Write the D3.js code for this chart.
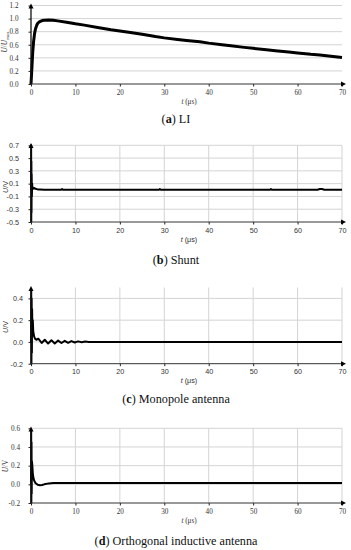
<!DOCTYPE html>
<html><head><meta charset="utf-8">
<script src="https://cdn.jsdelivr.net/npm/d3@7/dist/d3.min.js"></script>
<style>body{margin:0;background:#fff}svg{display:block}</style>
</head><body>
<script>
// ---------- data ----------
const xTicks = [0, 10, 20, 30, 40, 50, 60, 70];

const liTime  = [0,0.2,0.4,0.6,0.8,1,1.3,1.6,2,2.5,3,4,5,6,8,10,12,15,18,20,22,25,28,30,33,35,38,40,43,45,48,50,53,55,58,60,63,65,68,70];
const liValue = [0,0.25,0.5,0.66,0.77,0.84,0.9,0.935,0.955,0.97,0.975,0.98,0.975,0.965,0.945,0.92,0.9,0.865,0.83,0.81,0.79,0.76,0.725,0.705,0.68,0.665,0.645,0.625,0.6,0.585,0.56,0.545,0.525,0.51,0.49,0.475,0.455,0.445,0.42,0.405];
const liYTicks = [0, 0.2, 0.4, 0.6, 0.8, 1.0, 1.2];

const shuntTime  = [0,0.03,0.06,0.09,0.12,0.15,0.2,0.25,0.3,0.4,0.6,0.8,1,1.5,2,3,6.8,7,7.2,10,20,28.8,29,29.2,40,53.8,54,54.2,60,64.5,65,65.5,66,70];
const shuntValue = [0,0.7,-0.5,0.45,-0.35,0.25,-0.1,0.1,0.05,0.04,0.02,0.03,0.02,0.01,0.01,0.005,0.005,0.015,0.005,0.005,0.005,0.005,0.015,0.005,0.005,0.005,0.015,0.005,0.005,0.005,0.015,0.015,0.005,0.005];
const shuntYTicks = [-0.5, -0.3, -0.1, 0.1, 0.3, 0.5, 0.7];

const monoTime  = [0,0.05,0.1,0.15,0.2,0.25,0.3,0.4,0.5,0.7,0.9,1.2,1.65,2.4,3.1,3.85,4.6,5.35,6.1,6.85,7.6,8.35,9.1,9.85,10.6,11.4,12.2,13,20,30,40,50,60,70];
const monoValue = [0,0.48,-0.2,0.4,-0.1,0.3,0.15,0.2,0.1,0.05,0.03,0.02,0.03,-0.01,0.02,-0.015,0.015,-0.015,0.012,-0.01,0.01,-0.008,0.008,-0.005,0.005,-0.003,0.003,0,0,0,0,0,0,0];
const monoYTicks = [-0.2, 0.0, 0.2, 0.4];

const orthoTime  = [0,0.04,0.08,0.12,0.16,0.2,0.3,0.4,0.5,0.7,1,1.5,2,2.5,3,4,5,10,20,30,40,50,60,70];
const orthoValue = [0,0.58,-0.2,0.45,-0.1,0.25,0.2,0.12,0.08,0.04,0.015,-0.005,-0.01,-0.008,0,0.01,0.013,0.015,0.015,0.015,0.015,0.015,0.015,0.015];
const orthoYTicks = [-0.2, 0.0, 0.2, 0.4, 0.6];

// ---------- drawing ----------
const W = 351, H = 550;
const svg = d3.select("body").append("svg").attr("width", W).attr("height", H);

const SERIF = "'Liberation Serif', 'DejaVu Serif', serif";
const SANS = "'Liberation Sans', Arial, sans-serif";
const fmt = v => { const s = d3.format(".1f")(Math.abs(v)); return (v < 0 ? "-" : "") + s; };

const x = d3.scaleLinear().domain([0, 70]).range([31, 342]);

function panel(o) {
  const g = svg.append("g");
  const y = d3.scaleLinear().domain(o.yDomain).range(o.yRange);
  const yTop = o.yRange[1], yBot = o.yRange[0];
  const grid = "#d4d4d4";
  const fs = 7.2;
  // horizontal gridlines
  g.selectAll(".hg").data(o.yTicks.filter(v => v !== o.yDomain[0]))
    .join("line").attr("x1", x(0)).attr("x2", x(70))
    .attr("y1", d => y(d)).attr("y2", d => y(d))
    .attr("stroke", grid).attr("stroke-width", 1);
  if (o.vgrid) {
    g.selectAll(".vg").data(xTicks.slice(1))
      .join("line").attr("x1", d => x(d)).attr("x2", d => x(d))
      .attr("y1", yTop).attr("y2", yBot)
      .attr("stroke", grid).attr("stroke-width", 1);
  }
  // data line
  const line = d3.line().x((d, i) => x(o.t[i])).y(d => y(d));
  g.append("path").attr("d", line(o.v)).attr("fill", "none")
    .attr("stroke", "#000").attr("stroke-width", o.sw).attr("stroke-linejoin", "round");
  // axes
  const axisX = g.append("g").attr("transform", `translate(0,${yBot})`)
    .call(d3.axisBottom(x).tickValues(xTicks).tickSize(2.5).tickPadding(3).tickFormat(d3.format("d")));
  const axisY = g.append("g").attr("transform", `translate(${x(0)},0)`)
    .call(d3.axisLeft(y).tickValues(o.yTicks).tickSize(2.5).tickPadding(o.yPad).tickFormat(fmt));
  [axisX, axisY].forEach(a => {
    a.select(".domain").remove();
    a.selectAll("line").attr("stroke", "#222");
    a.selectAll("text").attr("font-family", o.font).attr("font-size", fs).attr("fill", "#333");
  });
  g.append("line").attr("x1", x(0)).attr("x2", x(70) + 1).attr("y1", yBot).attr("y2", yBot)
    .attr("stroke", "#333").attr("stroke-width", 1);
  g.append("line").attr("x1", x(0)).attr("x2", x(0)).attr("y1", yBot).attr("y2", o.arrowTop + 2)
    .attr("stroke", "#111").attr("stroke-width", 1.3);
  // arrows
  const xe = x(70);
  g.append("path").attr("d", `M${xe + 4},${yBot} L${xe - 1},${yBot - 2.5} L${xe - 1},${yBot + 2.5} Z`).attr("fill", "#000");
  g.append("path").attr("d", `M${x(0)},${o.arrowTop} L${x(0) - 2.5},${o.arrowTop + 5} L${x(0) + 2.5},${o.arrowTop + 5} Z`).attr("fill", "#000");
  // x-axis title
  const tt = g.append("text").attr("x", 189).attr("y", yBot + 19.5).attr("text-anchor", "middle")
    .attr("font-family", o.font).attr("font-size", fs).attr("fill", "#333");
  tt.append("tspan").attr("font-style", "italic").text("t");
  tt.append("tspan").text(" (μs)");
  // y-axis title
  const yt = g.append("text").attr("transform", `translate(${o.yTitleX},${o.yTitleY}) rotate(-90)`)
    .attr("text-anchor", "middle").attr("font-family", o.font).attr("font-size", fs).attr("fill", "#333");
  yt.append("tspan").attr("font-style", "italic").text("U");
  if (o.umax) {
    yt.append("tspan").text("/");
    yt.append("tspan").attr("font-style", "italic").text("U");
    yt.append("tspan").attr("font-size", 5).attr("dy", 1.5).text("max");
  } else {
    yt.append("tspan").text("/V");
  }
  // caption
  const cap = svg.append("text").attr("x", 176).attr("y", o.capY).attr("text-anchor", "middle")
    .attr("font-family", SERIF).attr("font-size", 12.2).attr("fill", "#111");
  cap.append("tspan").text("(");
  cap.append("tspan").attr("font-weight", "bold").text(o.letter);
  cap.append("tspan").text(") " + o.caption);
}

panel({ t: liTime, v: liValue, yDomain: [0, 1.2], yRange: [84, 5.5], yTicks: liYTicks, vgrid: false,
  sw: 3, font: SERIF, arrowTop: 3.5, yTitleX: 7, yTitleY: 42, umax: true, yPad: 10,
  capY: 123, letter: "a", caption: "LI" });
panel({ t: shuntTime, v: shuntValue, yDomain: [-0.5, 0.7], yRange: [222, 145.3], yTicks: shuntYTicks, vgrid: true,
  sw: 2, font: SANS, arrowTop: 143, yTitleX: 7.5, yTitleY: 187, umax: false, yPad: 9.5,
  capY: 264, letter: "b", caption: "Shunt" });
panel({ t: monoTime, v: monoValue, yDomain: [-0.2, 0.5], yRange: [363.7, 287.5], yTicks: monoYTicks, vgrid: true,
  sw: 2, font: SANS, arrowTop: 286, yTitleX: 7.5, yTitleY: 327, umax: false, yPad: 5.5,
  capY: 403, letter: "c", caption: "Monopole antenna" });
panel({ t: orthoTime, v: orthoValue, yDomain: [-0.2, 0.6], yRange: [503, 428.3], yTicks: orthoYTicks, vgrid: true,
  sw: 2, font: SERIF, arrowTop: 426.5, yTitleX: 7.5, yTitleY: 466, umax: false, yPad: 8.5,
  capY: 545, letter: "d", caption: "Orthogonal inductive antenna" });
</script>
</body></html>
